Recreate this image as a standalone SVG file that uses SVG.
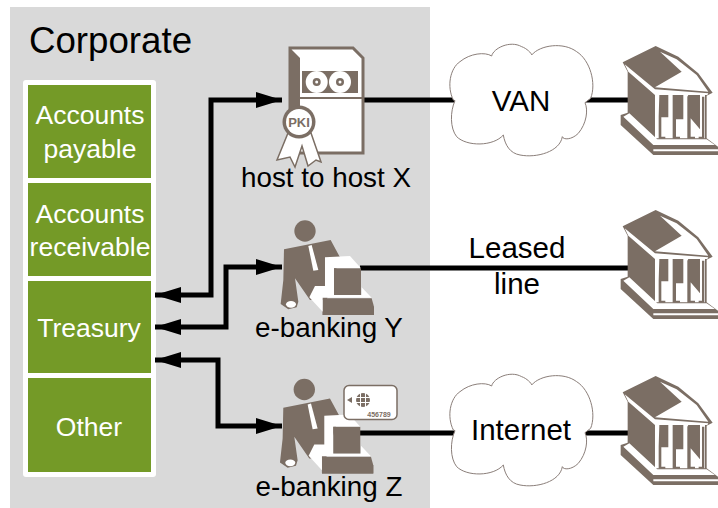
<svg xmlns="http://www.w3.org/2000/svg" width="718" height="508" viewBox="0 0 718 508">
<style>
text{font-family:"Liberation Sans",Arial,sans-serif;text-anchor:middle}
.w{fill:#fff;font-size:26.500px}
.k{fill:#000;font-size:27.800px}
.l{fill:#000;font-size:29.500px}
.g{fill:#749a27}
.d{fill:#7b6e64}
.wf{fill:#fff}
.c{fill:none;stroke:#000;stroke-width:5}
.cloud{fill:#fff;stroke:#8a7d78;stroke-width:3}
</style>
<defs>
<marker id="ah" markerUnits="userSpaceOnUse" markerWidth="27" markerHeight="18" refX="26" refY="8" orient="auto-start-reverse"><path d="M0 0L26 8L0 16Z" fill="#000"/></marker>
<symbol id="bank" overflow="visible">
<path class="d" d="M68 97L167 48L235 80L295 130L338 188L320 197V325L354 350V375H160L62 285V255L83 248V125Z"/>
<path class="wf" d="M180 65L245 125L165 172L325 185L290 135L230 88ZM74 103L165 178L325 190L322 195H165L85 125Z"/>
<path class="wf" d="M165 195H315V325H165Z"/>
<path class="d" d="M178 195H205V262H184V320H196V326H176V260ZM218 195H250V268H228V320H240V326H218ZM265 195H300V298L272 265V320H285V326H262V200ZM306 200H313V326H296V320H306Z"/>
<path class="wf" d="M70 260L160 345H345L320 328H172L88 250ZM160 358H354V364H160Z"/>
</symbol>
<symbol id="person" overflow="visible">
<circle class="d" cx="135" cy="93" r="32"/>
<path class="d" d="M72 148L212 120L240 172L200 300H188V345H342V320L190 300L150 300L105 235L115 305L110 322L85 328L62 312L70 240Z"/>
<path class="d" d="M188 295H335L342 320V345H188Z"/>
<path class="wf" d="M145 138L155 135L175 210L160 212Z"/>
<path class="wf" d="M195 172L270 168L303 205H222V285H305V262L335 293H188V335L148 292L165 258H195Z"/>
<path class="d" d="M222 205H303V285H222Z"/>
<ellipse class="wf" cx="93" cy="313" rx="15" ry="10"/>
</symbol>
<path id="cl" d="M70 210C50 170 60 115 90 95C120 70 165 65 185 78C190 55 240 30 275 50C290 55 305 70 305 75C330 45 400 35 440 65C480 90 500 160 482 205L465 218C475 240 470 280 445 310C425 330 400 330 397 320C390 365 320 385 270 375C240 370 225 345 220 315C190 350 110 350 80 320C60 295 60 245 75 212Z" transform="translate(430 30) scale(.3333)"/>
</defs>
<rect x="10" y="7" width="420" height="501" fill="#d9d9d9"/>
<text x="110.500" y="53" style="font-size:36.700px" fill="#000">Corporate</text>
<g id="corporate-units">
<rect x="23" y="80" width="133" height="397" rx="3" fill="#fff"/>
<g id="accounts-payable"><rect class="g" x="28" y="85" width="123" height="93"/><text class="w" x="90" y="124">Accounts</text><text class="w" x="90" y="158">payable</text></g>
<g id="accounts-receivable"><rect class="g" x="28" y="183" width="123" height="93"/><text class="w" x="90" y="223">Accounts</text><text class="w" x="90" y="256">receivable</text></g>
<g id="treasury"><rect class="g" x="28" y="281" width="123" height="92"/><text class="w" x="89" y="337">Treasury</text></g>
<g id="other"><rect class="g" x="28" y="378" width="123" height="94"/><text class="w" x="89" y="436">Other</text></g>
</g>
<g id="connectors">
<path class="c" marker-start="url(#ah)" marker-end="url(#ah)" d="M155 295H211V100H282"/>
<path class="c" marker-start="url(#ah)" marker-end="url(#ah)" d="M155 327H226V267H282"/>
<path class="c" marker-start="url(#ah)" marker-end="url(#ah)" d="M155 360H218V426H282"/>
<path class="c" d="M360 100H470M585 100H628M360 268H628M360 433H470M585 433H628"/>
</g>
<g id="host-to-host-x">
<path class="wf" d="M290 48H353L363 58V153H290Z" stroke="#7b6e64" stroke-width="3"/>
<path class="d" d="M290 48L300 58V108H290Z"/>
<path class="d" d="M302 71H358V93H302ZM300 97H362V99H300Z"/>
<circle class="wf" cx="316.700" cy="82" r="11"/><circle class="wf" cx="340" cy="82" r="11"/>
<circle class="d" cx="316.700" cy="82" r="4"/><circle class="d" cx="340" cy="82" r="4"/>
<circle class="wf" cx="316.700" cy="82" r="1.500"/><circle class="wf" cx="340" cy="82" r="1.500"/>
<path class="wf" stroke="#7b6e64" stroke-width="1.500" d="M288 133L277 160L290 157L295 167L302 146L308 166L316 160L321 162L311 133Z"/>
<circle class="d" cx="299" cy="122" r="16.500"/><circle class="wf" cx="299" cy="122" r="13"/>
<text x="299" y="127" style="font-size:13px;font-weight:bold" fill="#7b6e64">PKI</text>
<text class="k" x="326" y="187">host to host X</text>
</g>
<g id="e-banking-y"><use href="#person" transform="translate(260 200) scale(.3333)"/><text class="k" x="329" y="337">e-banking Y</text></g>
<g id="e-banking-z"><use href="#person" transform="translate(259.300 358.500) scale(.3333)"/>
<rect x="344" y="385.500" width="53" height="34" rx="5" fill="#fff" stroke="#7b6e64" stroke-width="1.500"/>
<path class="d" d="M347 400L352 397V403Z"/><circle class="d" cx="363" cy="400" r="7"/>
<path d="M355 397.500H371M355 402.500H371M360.500 392V408M365.500 392V408" stroke="#fff" fill="none"/>
<text x="379" y="417" style="font-size:7px;font-weight:bold" fill="#7b6e64">456789</text>
<text class="k" x="329" y="496">e-banking Z</text></g>
<g id="van"><use href="#cl" class="cloud"/><text class="l" x="521" y="111">VAN</text></g>
<g id="leased-line"><text class="l" x="517" y="258">Leased</text><text class="l" x="517" y="294">line</text></g>
<g id="internet"><use href="#cl" class="cloud" y="330"/><text class="l" x="521" y="440">Internet</text></g>
<g id="bank-1"><use href="#bank" transform="translate(600 30) scale(.3333)"/></g>
<g id="bank-2"><use href="#bank" transform="translate(600 194) scale(.3333)"/></g>
<g id="bank-3"><use href="#bank" transform="translate(600 360) scale(.3333)"/></g>
</svg>
